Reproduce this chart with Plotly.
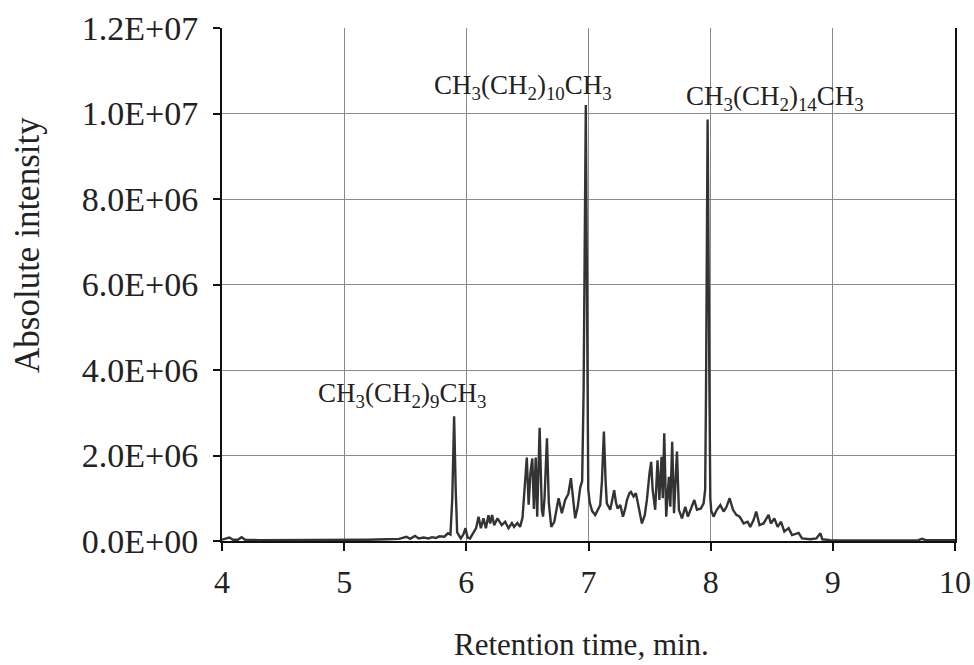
import numpy as np
import plotly.graph_objects as go

# Chromatogram trace: retention time (min) and absolute intensity (millions of counts)
retention_time = [
    4.00, 4.03, 4.06, 4.09, 4.13, 4.16, 4.19, 4.30, 4.50, 4.80, 5.00, 5.20, 5.35, 5.45,
    5.51, 5.54, 5.58, 5.61, 5.65, 5.69, 5.72, 5.75, 5.78, 5.82, 5.85, 5.87, 5.885, 5.900,
    5.913, 5.925, 5.955, 5.975, 5.993, 6.010, 6.030, 6.058, 6.080, 6.100, 6.119, 6.140,
    6.160, 6.181, 6.195, 6.211, 6.228, 6.255, 6.275, 6.290, 6.318, 6.345, 6.373, 6.391,
    6.418, 6.440, 6.460, 6.480, 6.495, 6.510, 6.525, 6.540, 6.553, 6.568, 6.580, 6.600,
    6.618, 6.628, 6.640, 6.660, 6.675, 6.695, 6.720, 6.755, 6.782, 6.809, 6.835, 6.856,
    6.872, 6.891, 6.912, 6.932, 6.948, 6.960, 6.978, 6.990, 6.998, 7.010, 7.030, 7.055,
    7.080, 7.096, 7.110, 7.126, 7.140, 7.150, 7.178, 7.195, 7.210, 7.225, 7.238, 7.260,
    7.282, 7.300, 7.315, 7.335, 7.347, 7.369, 7.388, 7.410, 7.437, 7.460, 7.478, 7.500,
    7.513, 7.525, 7.535, 7.546, 7.565, 7.580, 7.598, 7.608, 7.620, 7.636, 7.658, 7.670,
    7.685, 7.700, 7.724, 7.740, 7.765, 7.792, 7.814, 7.838, 7.866, 7.888, 7.920, 7.942,
    7.955, 7.962, 7.975, 7.990, 7.997, 8.005, 8.024, 8.050, 8.079, 8.106, 8.130, 8.155,
    8.183, 8.210, 8.237, 8.270, 8.303, 8.324, 8.351, 8.373, 8.400, 8.433, 8.474, 8.493,
    8.521, 8.548, 8.576, 8.603, 8.638, 8.666, 8.700, 8.720, 8.748, 8.780, 8.816, 8.865,
    8.898, 8.914, 8.980, 9.200, 9.500, 9.700, 9.730, 9.760, 10.00,
]
intensity_millions = [
    0.03, 0.05, 0.08, 0.03, 0.03, 0.09, 0.03, 0.02, 0.02, 0.02, 0.02, 0.03, 0.04, 0.05,
    0.10, 0.05, 0.12, 0.06, 0.08, 0.06, 0.09, 0.07, 0.11, 0.10, 0.18, 0.15, 1.00, 2.92,
    1.20, 0.20, 0.06, 0.15, 0.30, 0.08, 0.06, 0.18, 0.30, 0.57, 0.30, 0.53,
    0.30, 0.60, 0.41, 0.61, 0.37, 0.53, 0.42, 0.37, 0.45, 0.30, 0.42, 0.33,
    0.42, 0.33, 0.55, 1.30, 1.95, 0.85, 1.60, 1.93, 0.75, 1.95, 0.57, 2.65,
    0.73, 0.57, 1.00, 2.40, 0.90, 0.33, 0.45, 1.00, 0.65, 0.96, 1.10, 1.47,
    1.00, 0.53, 0.80, 1.25, 1.40, 3.50, 10.20, 3.50, 1.20, 0.90, 0.70, 0.61,
    0.75, 0.84, 1.40, 2.56, 1.40, 0.88, 0.73, 0.95, 1.19, 0.90, 0.76, 0.84,
    0.57, 0.75, 0.96, 1.12, 1.15, 1.04, 1.12, 0.80, 0.41, 0.60, 0.96, 1.60,
    1.85, 1.20, 0.95, 0.73, 1.89, 0.96, 1.97, 1.00, 2.52, 0.57, 1.50, 0.80,
    2.32, 0.65, 2.09, 0.73, 0.53, 0.80, 0.57, 0.76, 0.96, 0.73, 0.76, 0.88,
    1.20, 3.50, 9.86, 3.50, 1.00, 0.70, 0.57, 0.73, 0.84, 0.69, 0.80, 1.00,
    0.73, 0.61, 0.57, 0.41, 0.45, 0.33, 0.49, 0.69, 0.37, 0.41, 0.61, 0.41,
    0.53, 0.33, 0.45, 0.22, 0.30, 0.14, 0.17, 0.19, 0.06, 0.05, 0.04, 0.06,
    0.18, 0.04, 0.02, 0.01, 0.01, 0.02, 0.05, 0.02, 0.02,
]

# Peak labels (compound formulas) and where they sit
peak_labels = [
    "CH<sub>3</sub>(CH<sub>2</sub>)<sub>9</sub>CH<sub>3</sub>",
    "CH<sub>3</sub>(CH<sub>2</sub>)<sub>10</sub>CH<sub>3</sub>",
    "CH<sub>3</sub>(CH<sub>2</sub>)<sub>14</sub>CH<sub>3</sub>",
]
label_time = [5.47, 6.46, 8.53]
label_intensity = [3.42e6, 10.62e6, 10.36e6]

# Axis ticks
x_ticks = [4, 5, 6, 7, 8, 9, 10]
y_ticks = [0, 2e6, 4e6, 6e6, 8e6, 10e6, 12e6]
y_tick_text = ["0.0E+00", "2.0E+06", "4.0E+06", "6.0E+06", "8.0E+06", "1.0E+07", "1.2E+07"]

FONT = "Liberation Serif"
TEXT = "#222222"
intensity = np.array(intensity_millions) * 1e6

fig = go.Figure()
fig.add_trace(go.Scatter(
    x=retention_time, y=intensity, mode="lines",
    line=dict(color="#333333", width=2.4),
    showlegend=False, hoverinfo="skip",
))

for text, tx, ty in zip(peak_labels, label_time, label_intensity):
    fig.add_annotation(x=tx, y=ty, text=text, showarrow=False,
                       font=dict(family=FONT, size=27, color=TEXT),
                       xanchor="center", yanchor="middle")

# Axis titles placed as annotations
fig.add_annotation(x=0.49, y=-0.201, xref="paper", yref="paper",
                   text="Retention time, min.", showarrow=False,
                   font=dict(family=FONT, size=31, color=TEXT),
                   xanchor="center", yanchor="middle")
fig.add_annotation(x=-0.2647, y=0.577, xref="paper", yref="paper",
                   text="Absolute intensity", showarrow=False, textangle=-90,
                   font=dict(family=FONT, size=35, color=TEXT),
                   xanchor="center", yanchor="middle")

fig.update_xaxes(
    range=[4, 10], tickvals=x_ticks, ticks="outside", ticklen=8, tickwidth=1.5,
    tickcolor="#111", showline=True, linecolor="#111", linewidth=2,
    showgrid=True, gridcolor="#8a8a8a", gridwidth=1, zeroline=False,
    tickfont=dict(family=FONT, size=32, color=TEXT), ticklabelstandoff=4,
    automargin=False,
)
fig.update_yaxes(
    range=[0, 12e6], tickvals=y_ticks, ticktext=y_tick_text, ticks="outside",
    ticklen=7, tickwidth=1.5, tickcolor="#111", showline=True, linecolor="#111",
    linewidth=2, mirror=True, showgrid=True, gridcolor="#8a8a8a", gridwidth=1,
    zeroline=False, tickfont=dict(family=FONT, size=34, color=TEXT),
    ticklabelstandoff=8, automargin=False,
)

fig.update_layout(
    width=974, height=665,
    margin=dict(l=222, r=19, t=28, b=124),
    paper_bgcolor="white", plot_bgcolor="white",
)

fig.write_html("out.html")
